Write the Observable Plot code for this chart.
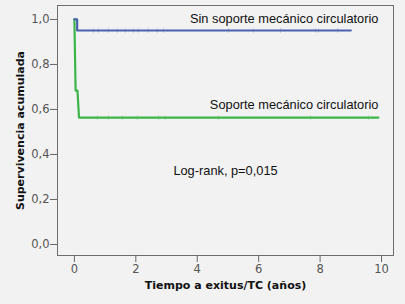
<!DOCTYPE html>
<html><head><meta charset="utf-8">
<script src="https://cdn.jsdelivr.net/npm/d3@7"></script>
<script src="https://cdn.jsdelivr.net/npm/@observablehq/plot@0.6"></script>
<style>
html,body{margin:0;padding:0;background:#f2f2f2;}
</style></head><body><div id="chart"></div>
<script>
// Kaplan-Meier curves (time in years, cumulative survival)
const sinTime = [0, 0.09, 0.09, 9.0];
const sinSurv = [1.0, 1.0, 0.951, 0.951];
const conTime = [0, 0.04, 0.1, 0.15, 9.9];
const conSurv = [1.0, 0.684, 0.684, 0.564, 0.564];
// censored observations
const sinCens = [0.62, 0.78, 1.11, 1.40, 1.66, 1.92, 2.08, 2.41, 2.70, 2.90, 5.02, 5.83, 6.71, 7.85, 7.95, 8.57];
const conCens = [0.75, 1.11, 1.56, 2.05, 2.74, 2.96, 4.69, 7.69, 9.58];
const xTicks = [0, 2, 4, 6, 8, 10];
const yTicks = [0, 0.2, 0.4, 0.6, 0.8, 1.0];
const groups = ["Sin soporte mecánico circulatorio", "Soporte mecánico circulatorio"];
const colors = ["#4a62ad", "#3db54a"];

const sinData = sinTime.map((t, i) => ({t, s: sinSurv[i]}));
const conData = conTime.map((t, i) => ({t, s: conSurv[i]}));
const sinC = sinCens.map(t => ({t, s: sinSurv[sinSurv.length - 1]}));
const conC = conCens.map(t => ({t, s: conSurv[conSurv.length - 1]}));
const fmt = d => d.toFixed(1).replace(".", ",");
const h = 0.01;

const plot = Plot.plot({
  width: 405, height: 304,
  marginLeft: 57, marginRight: 12, marginTop: 5, marginBottom: 49,
  style: {background: "#f2f2f2", fontFamily: "DejaVu Sans", overflow: "visible"},
  x: {domain: [-0.55, 10.39], ticks: xTicks, tickSize: 7, tickPadding: 2, label: null},
  y: {domain: [-0.049, 1.062], ticks: yTicks, tickSize: 7, tickPadding: 1, tickFormat: fmt, label: null},
  marks: [
    Plot.frame({stroke: "#6e6e6e", strokeWidth: 1}),
    Plot.axisX({ticks: xTicks, tickSize: 7, tickPadding: 2, fontSize: 11.5, color: "#555", stroke: "#666"}),
    Plot.axisY({ticks: yTicks, tickSize: 7, tickPadding: 1, tickFormat: fmt, fontSize: 11.5, color: "#555", stroke: "#666"}),
    Plot.line(conData, {x: "t", y: "s", stroke: colors[1], strokeWidth: 2.2}),
    Plot.link(conC, {x1: "t", x2: "t", y1: d => d.s - h, y2: d => d.s + h, stroke: colors[1], strokeOpacity: 0.3, strokeWidth: 1}),
    Plot.line(sinData, {x: "t", y: "s", stroke: colors[0], strokeWidth: 2.2}),
    Plot.link(sinC, {x1: "t", x2: "t", y1: d => d.s - h, y2: d => d.s + h, stroke: colors[0], strokeOpacity: 0.3, strokeWidth: 1}),
    Plot.text([groups[0]], {x: 9.9, y: 1.004, text: d => d, textAnchor: "end", fontSize: 12.8, fontFamily: "Liberation Sans", fill: "#111"}),
    Plot.text([groups[1]], {x: 9.9, y: 0.622, text: d => d, textAnchor: "end", fontSize: 12.8, fontFamily: "Liberation Sans", fill: "#111"}),
    Plot.text(["Log-rank, p=0,015"], {x: 4.92, y: 0.329, text: d => d, fontSize: 12.8, fontFamily: "Liberation Sans", fill: "#111"}),
    Plot.text(["Tiempo a exitus/TC (años)"], {frameAnchor: "bottom", dy: 33, text: d => d, fontSize: 11, fontWeight: "bold", fill: "#111"}),
    Plot.text(["Supervivencia acumulada"], {frameAnchor: "left", dx: -37, rotate: -90, textAnchor: "middle", text: d => d, fontSize: 11, fontWeight: "bold", fill: "#111"})
  ]
});
document.getElementById("chart").appendChild(plot);
</script></body></html>
